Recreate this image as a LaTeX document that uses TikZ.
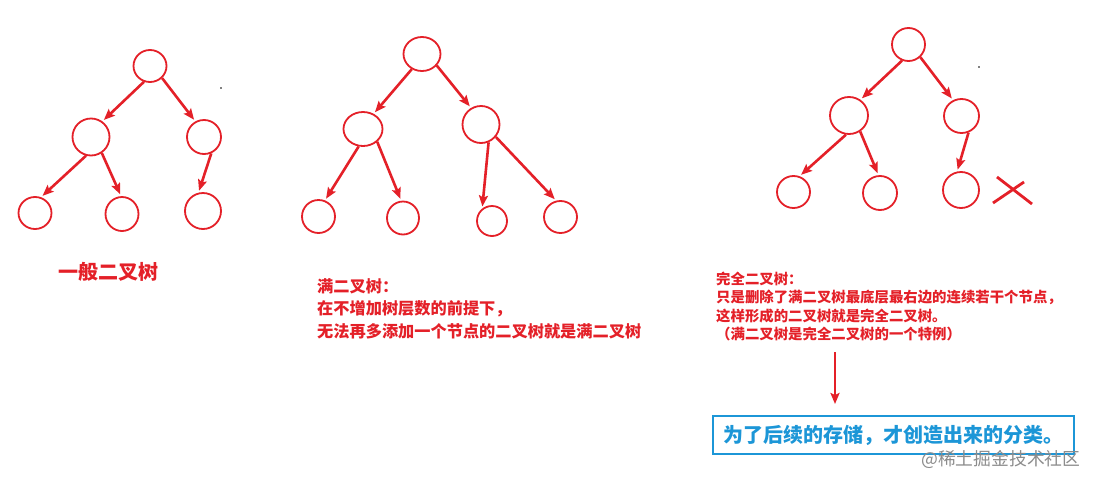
\documentclass[tikz,border=0pt]{standalone}
\usepackage{fontspec}
\newfontfamily\cjk{Noto Sans CJK SC}
\usetikzlibrary{arrows.meta,shapes.geometric}
\definecolor{tred}{RGB}{228,32,40}
\definecolor{tblue}{RGB}{28,150,215}
\begin{document}
\begin{tikzpicture}[x=1pt,y=-1pt,
  nd/.style 2 args={ellipse,draw=tred,line width=1.8pt,inner sep=0pt,minimum width=#1pt,minimum height=#2pt},
  arr/.style={draw=tred,line width=2.6pt,-{Stealth[length=11pt,width=9pt,inset=2pt]},shorten >=2pt},
  big/.style={anchor=base west,inner sep=0pt,text=tred,font=\cjk\bfseries\fontsize{20pt}{24pt}\selectfont},
  mid/.style={anchor=base west,inner sep=0pt,text=tred,font=\cjk\bfseries\fontsize{16.2pt}{20pt}\selectfont},
  sml/.style={anchor=base west,inner sep=0pt,text=tred,font=\cjk\bfseries\fontsize{14.4pt}{18pt}\selectfont},
  bluebox/.style={draw=tblue,line width=2pt,inner sep=0pt,minimum width=361pt,minimum height=38pt,text=tblue,font=\cjk\bfseries\fontsize{20pt}{24pt}\selectfont},
  wm/.style={anchor=base west,inner sep=0pt,text=black!45,font=\cjk\fontsize{17.8pt}{20pt}\selectfont},
  dot/.style={fill=black,circle,inner sep=0pt,minimum size=1.6pt}
]
\useasboundingbox[fill=white] (0,0) rectangle (1098,485);

% ---- Tree 1: general binary tree
\node[nd={33}{32}] (a0) at (150,66) {};
\node[nd={37}{37}] (a1) at (91,137) {};
\node[nd={34}{34}] (a2) at (204,137) {};
\node[nd={33}{32}] (a3) at (35,213) {};
\node[nd={33}{34}] (a4) at (122,214) {};
\node[nd={36}{36}] (a5) at (203,211) {};
\draw[arr] (a0.-111) -- (a1.54);
\draw[arr] (a0.-45) -- (a2.119);
\draw[arr] (a1.-105) -- (a3.69);
\draw[arr] (a1.-56) -- (a4.93);
\draw[arr] (a2.-66) -- (a5.104);
\node[dot] (d1) at (221,88) {};

% ---- Tree 2: full binary tree
\node[nd={37}{34}] (b0) at (422,54) {};
\node[nd={39}{34}] (b1) at (363,129) {};
\node[nd={37}{37}] (b2) at (481,124.5) {};
\node[nd={33}{33}] (b3) at (318.5,216.5) {};
\node[nd={32}{33}] (b4) at (403,218) {};
\node[nd={30}{30}] (b5) at (492,221) {};
\node[nd={33}{32}] (b6) at (560.5,217) {};
\draw[arr] (b0.-124) -- (b1.55);
\draw[arr] (b0.-38) -- (b2.121);
\draw[arr] (b1.-104) -- (b3.68);
\draw[arr] (b1.-42) -- (b4.96);
\draw[arr] (b2.-67) -- (b5.128);
\draw[arr] (b2.-40) -- (b6.105);

% ---- Tree 3: complete binary tree
\node[nd={33}{33}] (c0) at (908.5,44.5) {};
\node[nd={38}{37}] (c1) at (849,115.5) {};
\node[nd={35}{34}] (c2) at (961.5,116) {};
\node[nd={33}{32}] (c3) at (793.5,192) {};
\node[nd={34}{34}] (c4) at (880,193) {};
\node[nd={36}{36}] (c5) at (961,190) {};
\draw[arr] (c0.-112) -- (c1.54);
\draw[arr] (c0.-47) -- (c2.118);
\draw[arr] (c1.-99) -- (c3.69);
\draw[arr] (c1.-55) -- (c4.95);
\draw[arr] (c2.-67) -- (c5.102);
\node[dot] (d2) at (979,67) {};
% cross mark
\coordinate (x1) at (997,177);
\coordinate (x2) at (1032,204);
\coordinate (x3) at (993,203);
\coordinate (x4) at (1024,182);
\draw[tred,line width=2.8pt] (x1) -- (x2);
\draw[tred,line width=2.8pt] (x3) -- (x4);

% ---- Labels
\node[big] (t1) at (58,279) {一般二叉树};

\node[mid] (t2a) at (317,292) {满二叉树：};
\node[mid] (t2b) at (317,314.5) {在不增加树层数的前提下，};
\node[mid] (t2c) at (317,337) {无法再多添加一个节点的二叉树就是满二叉树};

\node[sml] (t3a) at (716,284) {完全二叉树：};
\node[sml] (t3b) at (716,302.5) {只是删除了满二叉树最底层最右边的连续若干个节点，};
\node[sml] (t3c) at (716,321) {这样形成的二叉树就是完全二叉树。};
\node[sml] (t3d) at (716,339.5) {（满二叉树是完全二叉树的一个特例）};

\coordinate (p1) at (835,352);
\coordinate (p2) at (835,404);
\draw[tred,line width=2.8pt,-{Stealth[length=11pt,width=9pt,inset=2pt]}] (p1) -- (p2);

\node[bluebox] (box) at (893.5,435) {为了后续的存储，才创造出来的分类。};

\node[wm] (wmk) at (921,465) {@稀土掘金技术社区};
\end{tikzpicture}
\end{document}
